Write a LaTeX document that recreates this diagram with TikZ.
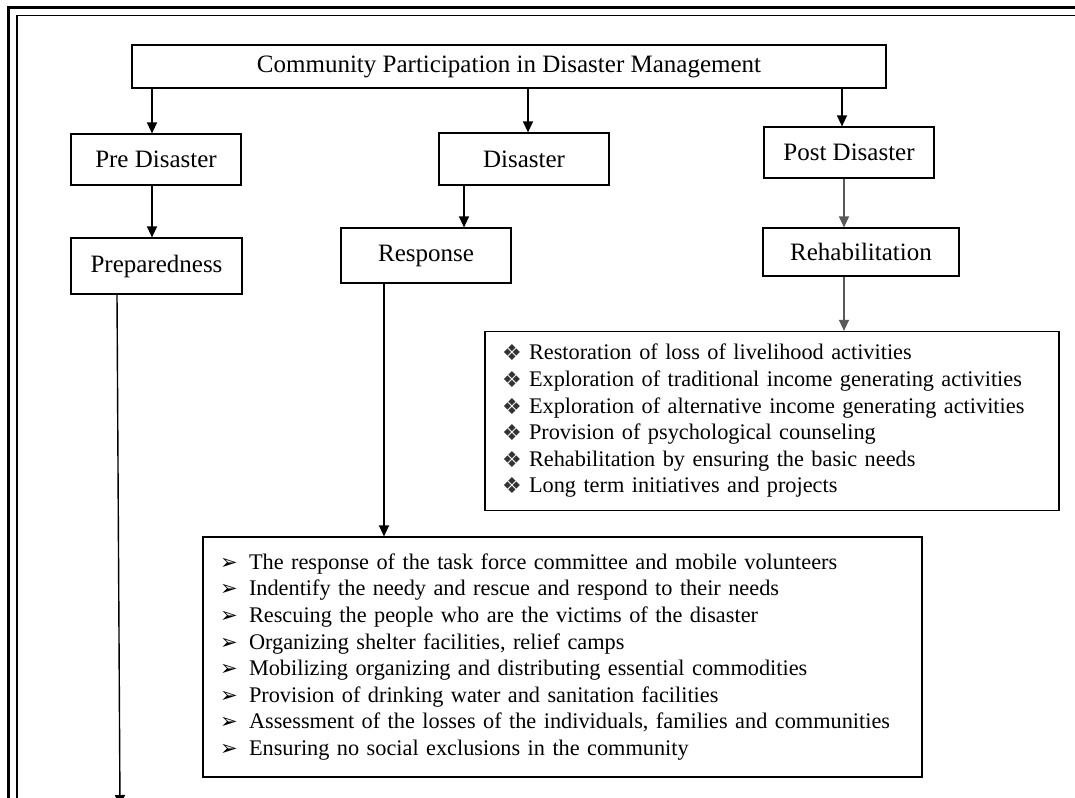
\documentclass[tikz,border=0pt]{standalone}
\usepackage{fontspec}
\setmainfont{Liberation Serif}
\newfontfamily\dingfont{DejaVu Sans}
\usetikzlibrary{arrows.meta}
\tikzset{
  caja/.style={draw, line width=1.2pt, font=\fontsize{25}{28}\selectfont, inner sep=0pt},
  lista/.style={draw, line width=1.2pt, font=\fontsize{22.3}{26.6}\selectfont, align=left, inner sep=0pt},
  flecha/.style={-{Triangle[length=11pt,width=10pt]}, line width=1.4pt},
}
\newcommand{\flch}{\makebox[29pt][l]{\raisebox{0pt}{\dingfont\fontsize{21}{21}\selectfont ➢}}}
\newcommand{\romb}{\makebox[27pt][l]{\raisebox{-1pt}{\dingfont\fontsize{22}{22}\selectfont\color{black!80}❖}}}
\begin{document}
\begin{tikzpicture}[x=1pt,y=-1pt]
\useasboundingbox (0,0) rectangle (1075,797);
\clip (0,0) rectangle (1075,797);
\fill[white] (0,0) rectangle (1075,797);
% Marco
\draw[line width=2.4pt] (8.5,800) -- (8.5,7.5) -- (1080,7.5);
\draw[line width=1.2pt] (17,800) -- (17,15.5) -- (1080,15.5);
% Cajas
\node[caja, minimum width=754pt, minimum height=43pt] (titulo) at (509,66.5) {Community Participation in Disaster Management};
\node[caja, minimum width=170pt, minimum height=51pt] (pre) at (156,159.5) {Pre Disaster\hspace{12pt}};
\node[caja, minimum width=170pt, minimum height=52pt] (dis) at (524,159) {Disaster};
\node[caja, minimum width=170pt, minimum height=51pt] (post) at (849,152.5) {Post Disaster};
\node[caja, minimum width=171pt, minimum height=56pt] (prep) at (156.5,266) {Preparedness};
\node[caja, minimum width=170pt, minimum height=55pt] (resp) at (426,255.5) {Response};
\node[caja, minimum width=196pt, minimum height=48pt] (rehab) at (861,252) {Rehabilitation\hspace{20pt}};
% Listas
\node[lista, minimum width=574pt, minimum height=179pt, text width=540pt, inner xsep=17pt] (listareh) at (772,421) {%
\romb Restoration of loss of livelihood activities\\
\romb Exploration of traditional income generating activities\\
\romb Exploration of alternative income generating activities\\
\romb Provision of psychological counseling\\
\romb Rehabilitation by ensuring the basic needs\\
\romb Long term initiatives and projects};
\node[lista, minimum width=719pt, minimum height=240pt, text width=685pt, inner xsep=17pt] (listaresp) at (562.5,657) {%
\flch The response of the task force committee and mobile volunteers\\
\flch Indentify the needy and rescue and respond to their needs\\
\flch Rescuing the people who are the victims of the disaster\\
\flch Organizing shelter facilities, relief camps\\
\flch Mobilizing organizing and distributing essential commodities\\
\flch Provision of drinking water and sanitation facilities\\
\flch Assessment of the losses of the individuals, families and communities\\
\flch Ensuring no social exclusions in the community};
% Flechas
\draw[flecha] (titulo.south -| 152,0) -- (pre.north -| 152,0);
\draw[flecha] (titulo.south -| 528,0) -- (dis.north -| 528,0);
\draw[flecha] (titulo.south -| 842,0) -- (post.north -| 842,0);
\draw[flecha] (pre.south -| 152,0) -- (prep.north -| 152,0);
\draw[flecha] (dis.south -| 464,0) -- (resp.north -| 464,0);
\draw[flecha, draw=black!65] (post.south -| 844,0) -- (rehab.north -| 844,0);
\draw[flecha, draw=black!65] (rehab.south -| 844,0) -- (listareh.north -| 844,0);
\draw[flecha] (resp.south -| 384,0) -- (listaresp.north -| 384,0);
% Preparacion hacia abajo
\coordinate (fin) at (120,806);
\draw[flecha] (prep.south -| 117,0) -- (fin);
\end{tikzpicture}
\end{document}
